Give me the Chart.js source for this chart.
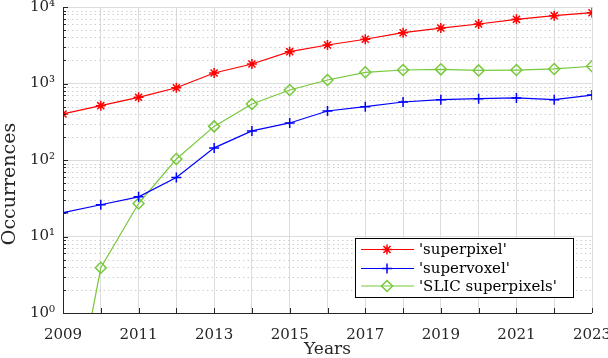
<!DOCTYPE html>
<html>
<head>
<meta charset="utf-8">
<script src="https://cdn.jsdelivr.net/npm/chart.js@4.4.0/dist/chart.umd.min.js"></script>
<style>
html, body { margin: 0; padding: 0; background: #fff; }
#wrap { width: 608px; height: 358px; }
</style>
</head>
<body>
<div id="wrap"><canvas id="chartCanvas"></canvas></div>
<script>
const years = [2009, 2010, 2011, 2012, 2013, 2014, 2015, 2016, 2017, 2018, 2019, 2020, 2021, 2022, 2023];
const superpixel = [400, 513, 660, 881, 1371, 1798, 2605, 3186, 3788, 4612, 5310, 5995, 6900, 7700, 8420];
const supervoxel = [20.5, 26, 33, 59, 144, 240, 305, 437, 498, 573, 614, 634, 647, 614, 705];
const slic = [0.01, 3.9, 27, 103, 275, 540, 822, 1111, 1401, 1501, 1532, 1482, 1500, 1550, 1680];
const seriesNames = ["'superpixel'", "'supervoxel'", "'SLIC superpixels'"];
const seriesColors = ['#ff0000', '#0000ff', '#77c83a'];
const seriesMarkers = ['star', 'cross', 'rectRot'];
const yTickLabels = { 1: '10⁰', 10: '10¹', 100: '10²', 1000: '10³', 10000: '10⁴' };
const xTitle = 'Years';
const yTitle = 'Occurrences';

const FONT = '"DejaVu Serif", serif';
const AXIS_COLOR = '#262626';
const GRID_COLOR = '#dcdcdc';

function isDecade(v) {
	const l = Math.log10(v);
	return Math.abs(l - Math.round(l)) < 1e-9;
}

function makeDataset(i, values) {
	return {
		label: seriesNames[i],
		data: years.map((y, k) => ({ x: y, y: values[k] })),
		borderColor: seriesColors[i],
		backgroundColor: 'rgba(0,0,0,0)',
		borderWidth: 1.2,
		pointStyle: seriesMarkers[i],
		pointRadius: i === 2 ? 5.5 : 5,
		pointBorderWidth: 1.5,
		pointBorderColor: seriesColors[i],
		pointBackgroundColor: 'rgba(0,0,0,0)',
		tension: 0
	};
}

const matlabLook = {
	id: 'matlabLook',
	beforeDatasetsDraw(chart) {
		const ctx = chart.ctx;
		const a = chart.chartArea;
		const ys = chart.scales.y;
		ctx.save();
		ctx.strokeStyle = '#cfcfcf';
		ctx.lineWidth = 1;
		ctx.setLineDash([1.5, 3]);
		for (let d = 0; d < 4; d++) {
			for (let m = 2; m <= 9; m++) {
				const py = Math.round(ys.getPixelForValue(m * Math.pow(10, d))) + 0.5;
				ctx.beginPath();
				ctx.moveTo(a.left, py);
				ctx.lineTo(a.right, py);
				ctx.stroke();
			}
		}
		ctx.restore();
	},
	afterDatasetsDraw(chart) {
		const ctx = chart.ctx;
		const a = chart.chartArea;
		const xs = chart.scales.x;
		const ys = chart.scales.y;
		ctx.save();
		ctx.strokeStyle = AXIS_COLOR;
		ctx.lineWidth = 1;
		// axis lines
		ctx.beginPath();
		ctx.moveTo(a.left + 0.5, a.top);
		ctx.lineTo(a.left + 0.5, a.bottom + 0.5);
		ctx.lineTo(a.right, a.bottom + 0.5);
		ctx.stroke();
		// inward ticks on the left axis
		for (let d = 0; d < 4; d++) {
			for (let m = 1; m <= 9; m++) {
				const py = Math.round(ys.getPixelForValue(m * Math.pow(10, d))) + 0.5;
				const len = m === 1 ? 5 : 3;
				ctx.beginPath();
				ctx.moveTo(a.left, py);
				ctx.lineTo(a.left + len, py);
				ctx.stroke();
			}
		}
		const topY = Math.round(ys.getPixelForValue(10000)) + 0.5;
		ctx.beginPath();
		ctx.moveTo(a.left, topY);
		ctx.lineTo(a.left + 5, topY);
		ctx.stroke();
		// inward ticks on the bottom axis
		years.forEach(y => {
			const px = Math.round(xs.getPixelForValue(y)) + 0.5;
			ctx.beginPath();
			ctx.moveTo(px, a.bottom);
			ctx.lineTo(px, a.bottom - 5);
			ctx.stroke();
		});
		ctx.restore();
	},
	afterDraw(chart) {
		const ctx = chart.ctx;
		const a = chart.chartArea;

		// y axis title, sits a bit below the axis centre like the original
		ctx.save();
		ctx.translate(10, (a.top + a.bottom) / 2 + 24);
		ctx.rotate(-Math.PI / 2);
		ctx.fillStyle = AXIS_COLOR;
		ctx.font = '19px ' + FONT;
		ctx.textAlign = 'center';
		ctx.textBaseline = 'middle';
		ctx.fillText(yTitle, 0, 0);
		ctx.restore();

		// legend box
		const boxR = a.right - 19;
		const boxB = a.bottom - 16;
		const boxW = 218;
		const boxH = 59;
		const boxL = boxR - boxW;
		const boxT = boxB - boxH;
		ctx.save();
		ctx.fillStyle = '#fff';
		ctx.fillRect(boxL, boxT, boxW, boxH);
		ctx.strokeStyle = '#000';
		ctx.lineWidth = 1;
		ctx.strokeRect(Math.round(boxL) + 0.5, Math.round(boxT) + 0.5, Math.round(boxW), Math.round(boxH));
		const rowY = [boxT + 11.5, boxT + 30.5, boxT + 48];
		chart.data.datasets.forEach((ds, i) => {
			const ry = rowY[i];
			ctx.strokeStyle = ds.borderColor;
			ctx.lineWidth = 1.2;
			ctx.beginPath();
			ctx.moveTo(boxL + 6, ry);
			ctx.lineTo(boxL + 59, ry);
			ctx.stroke();
			ctx.lineWidth = 1.5;
			ctx.fillStyle = 'rgba(0,0,0,0)';
			Chart.helpers.drawPoint(ctx, {
				pointStyle: ds.pointStyle,
				radius: ds.pointRadius,
				rotation: 0,
				borderWidth: 1.5
			}, boxL + 32, ry);
			ctx.fillStyle = '#000';
			ctx.font = '15px ' + FONT;
			ctx.textBaseline = 'middle';
			ctx.textAlign = 'left';
			ctx.fillText(ds.label, boxL + 64, ry + 1);
		});
		ctx.restore();
	}
};

const config = {
	type: 'line',
	data: {
		datasets: [
			makeDataset(0, superpixel),
			makeDataset(1, supervoxel),
			makeDataset(2, slic)
		]
	},
	options: {
		responsive: true,
		maintainAspectRatio: false,
		animation: false,
		devicePixelRatio: 1,
		layout: { padding: { left: 0, top: 7, right: 16, bottom: 0 } },
		plugins: {
			legend: { display: false },
			tooltip: { enabled: false }
		},
		scales: {
			x: {
				type: 'linear',
				min: 2009,
				max: 2023,
				afterBuildTicks(scale) {
					scale.ticks = years.map(v => ({ value: v }));
				},
				afterFit(scale) {
					scale.height = 45;
					scale.paddingLeft = 0;
					scale.paddingRight = 0;
				},
				ticks: {
					autoSkip: false,
					maxRotation: 0,
					padding: 13,
					color: AXIS_COLOR,
					font: { family: FONT, size: 15 },
					callback: v => ((v - 2009) % 2 === 0 ? String(v) : '')
				},
				grid: { color: GRID_COLOR, drawTicks: false, tickLength: 0 },
				border: { display: false },
				title: {
					display: true,
					text: xTitle,
					color: AXIS_COLOR,
					font: { family: FONT, size: 17 },
					padding: { top: 0, bottom: -2 }
				}
			},
			y: {
				type: 'logarithmic',
				min: 1,
				max: 10000,
				afterBuildTicks(scale) {
					const t = [];
					for (let d = 0; d < 4; d++) {
						for (let m = 1; m <= 9; m++) t.push({ value: m * Math.pow(10, d) });
					}
					t.push({ value: 10000 });
					scale.ticks = t;
				},
				afterFit(scale) {
					scale.width = 63;
					scale.paddingTop = 0;
					scale.paddingBottom = 0;
				},
				ticks: {
					autoSkip: false,
					padding: 8,
					color: AXIS_COLOR,
					font: { family: FONT, size: 15 },
					callback: v => yTickLabels[v] || ''
				},
				grid: {
					color: ctx => (ctx.tick && isDecade(ctx.tick.value) ? GRID_COLOR : 'rgba(0,0,0,0)'),
					drawTicks: false,
					tickLength: 0
				},
				border: { display: false }
			}
		}
	},
	plugins: [matlabLook]
};

const chart = new Chart(document.getElementById('chartCanvas').getContext('2d'), config);
</script>
</body>
</html>
